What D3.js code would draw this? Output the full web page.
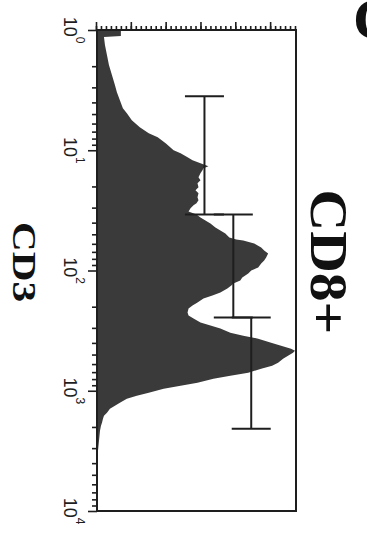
<!DOCTYPE html>
<html>
<head>
<meta charset="utf-8">
<script src="https://cdn.jsdelivr.net/npm/d3@7"></script>
<style>
  html, body { margin: 0; padding: 0; background: #fff; }
  svg { display: block; }
</style>
</head>
<body>
<script>
// CD3 fluorescence intensity (log scale) and event counts of the CD8+ histogram
const cd3 = [1.00, 1.019, 1.122, 1.144, 1.334, 1.616, 1.957, 2.371, 2.873, 3.286,
  3.831, 4.467, 4.917, 5.623, 6.434, 7.218, 7.794, 8.743, 10.0, 10.59,
  11.44, 12.12, 12.83, 13.59, 14.13, 14.68, 15.55, 16.79, 17.78, 18.84,
  20.34, 21.54, 22.82, 24.64, 26.10, 27.65, 28.73, 30.43, 32.24, 34.15,
  36.17, 38.31, 40.59, 43.82, 46.42, 49.17, 53.09, 55.17, 56.23, 59.57,
  64.34, 68.13, 72.18, 77.94, 82.54, 87.43, 94.41, 100, 105.9, 114.4,
  121.2, 128.3, 133.4, 141.3, 152.5, 161.6, 171.1, 184.8, 195.7, 207.4,
  223.9, 237.1, 251.2, 271.3, 287.3, 304.3, 328.6, 348.1, 368.7, 398.1,
  421.7, 446.7, 464.2, 482.3, 510.9, 541.2, 584.4, 619.0, 655.7, 707.9,
  749.9, 794.3, 857.7, 908.5, 962.3, 1039, 1101, 1166, 1259, 1334,
  1413, 1525, 1616, 1711, 1848, 1957, 2154, 2610, 3162, 10000];
const counts = [3, 24, 24, 7, 8, 10, 12, 15, 18, 20,
  23, 26, 30, 35, 43, 52, 61, 69, 77, 84,
  91, 96, 104, 112, 107, 106, 104, 102, 104, 101,
  102, 99, 102, 101, 102, 100, 97, 94, 92, 100,
  104, 109, 114, 119, 124, 129, 133, 140, 147, 158,
  165, 168, 172, 170, 168, 165, 162, 155, 152, 146,
  144, 137, 135, 131, 124, 116, 107, 101, 96, 92,
  91, 92, 97, 104, 114, 124, 134, 147, 162, 175,
  185, 195, 199, 197, 192, 187, 182, 176, 165, 152,
  134, 117, 101, 84, 67, 52, 40, 30, 23, 18,
  13, 10, 7, 6, 5, 4, 3, 2, 1, 1];

// Marker gates: start, end and drawn height
const markerStart = [3.55, 34.2, 246];
const markerEnd = [34.2, 246, 2070];
const markerCount = [108, 137, 155];

// Axis ticks
const decades = [1, 10, 100, 1000, 10000];
const decadeExp = ["0", "1", "2", "3", "4"];
const minorMult = [2, 3, 4, 5, 6, 7, 8, 9];
const countMajor = [0, 35, 70, 105, 140, 175];

const W = 481, H = 199;
const ink = "#1e1e1e";

const svg = d3.select("body").append("svg")
  .attr("width", 367).attr("height", 533);

// The histogram is laid out as usual, then turned a quarter turn clockwise
const g = svg.append("g").attr("transform", "translate(296,30) rotate(90)");

const x = d3.scaleLog().domain([1, 10000]).range([0, W]);
const y = d3.scaleLinear().domain([0, 200]).range([H, 0]);

const data = cd3.map((v, i) => ({ v, c: counts[i] }));

g.append("path")
  .datum(data)
  .attr("fill", "#3a3a3a")
  .attr("d", d3.area().x(d => x(d.v)).y0(H).y1(d => y(d.c)));

// Markers
const capHalf = 19.5;
markerStart.forEach((s, i) => {
  const yy = y(markerCount[i]);
  const m = g.append("g").attr("stroke", ink).attr("stroke-width", 2).attr("fill", "none");
  m.append("line").attr("x1", x(s)).attr("x2", x(markerEnd[i])).attr("y1", yy).attr("y2", yy);
  [s, markerEnd[i]].forEach(e => {
    m.append("line").attr("x1", x(e)).attr("x2", x(e))
      .attr("y1", yy - capHalf).attr("y2", yy + capHalf);
  });
});

// Frame
g.append("rect").attr("x", 0).attr("y", 0).attr("width", W).attr("height", H)
  .attr("fill", "none").attr("stroke", ink).attr("stroke-width", 2);

// Log intensity axis
const minorVals = decades.slice(0, 4).flatMap(d => minorMult.map(m => d * m));
const axB1 = g.append("g").attr("transform", `translate(0,${H})`)
  .call(d3.axisBottom(x).tickValues(decades).tickSize(9).tickFormat(""));
const axB2 = g.append("g").attr("transform", `translate(0,${H})`)
  .call(d3.axisBottom(x).tickValues(minorVals).tickSize(5).tickFormat(""));

// Count axis
const minorCounts = d3.range(0, 201, 5);
const axL1 = g.append("g").call(d3.axisLeft(y).tickValues(countMajor).tickSize(8).tickFormat(""));
const axL2 = g.append("g").call(d3.axisLeft(y).tickValues(minorCounts).tickSize(4).tickFormat(""));

[axB1, axB2, axL1, axL2].forEach(a => {
  a.select(".domain").remove();
  a.selectAll("line").attr("stroke", ink).attr("stroke-width", 1.6);
});

// Decade labels
const lab = g.selectAll(".declab").data(decades).join("text")
  .attr("class", "declab")
  .attr("x", d => x(d)).attr("y", H + 33)
  .attr("text-anchor", "middle")
  .attr("font-family", "Liberation Sans, Arial, sans-serif")
  .attr("font-size", 18).attr("fill", ink);
lab.append("tspan").text("10");
lab.append("tspan").attr("font-size", 12).attr("dy", -12).text((d, i) => decadeExp[i]);

// Axis title and heading
g.append("text").attr("x", 232).attr("y", 283)
  .attr("text-anchor", "middle")
  .attr("font-family", "Liberation Serif, Times New Roman, serif")
  .attr("font-weight", "bold").attr("font-size", 34)
  .attr("textLength", 80).attr("lengthAdjust", "spacingAndGlyphs")
  .attr("fill", "#111").text("CD3");

g.append("text").attr("x", 232).attr("y", -15)
  .attr("text-anchor", "middle")
  .attr("font-family", "Liberation Serif, Times New Roman, serif")
  .attr("font-weight", "bold").attr("font-size", 53)
  .attr("textLength", 145).attr("lengthAdjust", "spacingAndGlyphs")
  .attr("fill", "#111").text("CD8+");

// Panel letter, at the top right corner
svg.append("text").attr("x", 353).attr("y", 39)
  .attr("font-family", "Liberation Serif, Times New Roman, serif")
  .attr("font-weight", "bold").attr("font-size", 60)
  .attr("fill", "#111").text("C");
</script>
</body>
</html>
